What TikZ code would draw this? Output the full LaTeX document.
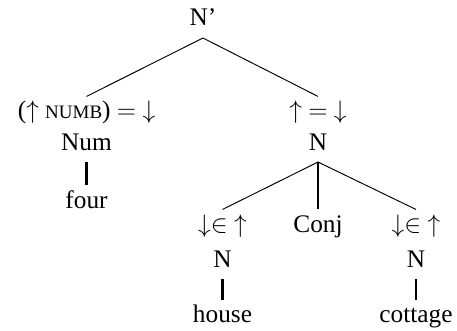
\documentclass[tikz,border=0pt]{standalone}
\usepackage{amssymb,amsmath}
\usepackage{fontspec}
\setmainfont{Liberation Serif}
\usepackage{tikz}

\begin{document}
\begin{tikzpicture}[every node/.style={align=center}]
    % 样式
    \tikzstyle{cat} = [anchor=base, inner sep=0pt, text height=10.5pt, text depth=5.5pt, font=\fontsize{12}{14}\selectfont]
    \tikzstyle{branch} = [line width=0.45pt]
    \tikzstyle{stem} = [line width=1pt]
    \newcommand{\featsc}[1]{{\fontsize{9}{10}\selectfont #1}}

    \useasboundingbox (0,0) rectangle (7.617,-5.5);

    % 根
    \node[cat] (root) at (3.383,-0.433) {N'};

    % 左支：Num
    \node[cat] (numeq) at (1.442,-1.983) {($\uparrow$ \featsc{NUMB}) $=$ $\downarrow$};
    \node[cat] (num) at (1.442,-2.5) {Num};
    \node[cat] (four) at (1.442,-3.467) {four};

    % 右支：N
    \node[cat] (headeq) at (5.3,-1.983) {$\uparrow$ $=$ $\downarrow$};
    \node[cat] (nhead) at (5.3,-2.5) {N};

    % 并列
    \node[cat] (memleft) at (3.708,-3.867) {$\downarrow\in$ $\uparrow$};
    \node[cat] (conj) at (5.3,-3.867) {Conj};
    \node[cat] (memright) at (6.933,-3.867) {$\downarrow\in$ $\uparrow$};
    \node[cat] (nleft) at (3.708,-4.45) {N};
    \node[cat] (nright) at (6.933,-4.45) {N};
    \node[cat] (house) at (3.708,-5.383) {house};
    \node[cat] (cottage) at (6.933,-5.383) {cottage};

    % 连线
    \draw[branch] (root.south) -- (numeq.north);
    \draw[branch] (root.south) -- (headeq.north);
    \draw[stem] (num.south) -- (four.north);
    \draw[branch] (nhead.south) -- (memleft.north);
    \draw[stem] (nhead.south) -- (conj.north);
    \draw[branch] (nhead.south) -- (memright.north);
    \draw[stem] (nleft.south) -- (house.north);
    \draw[stem] (nright.south) -- (cottage.north);
  \end{tikzpicture}
\end{document}
